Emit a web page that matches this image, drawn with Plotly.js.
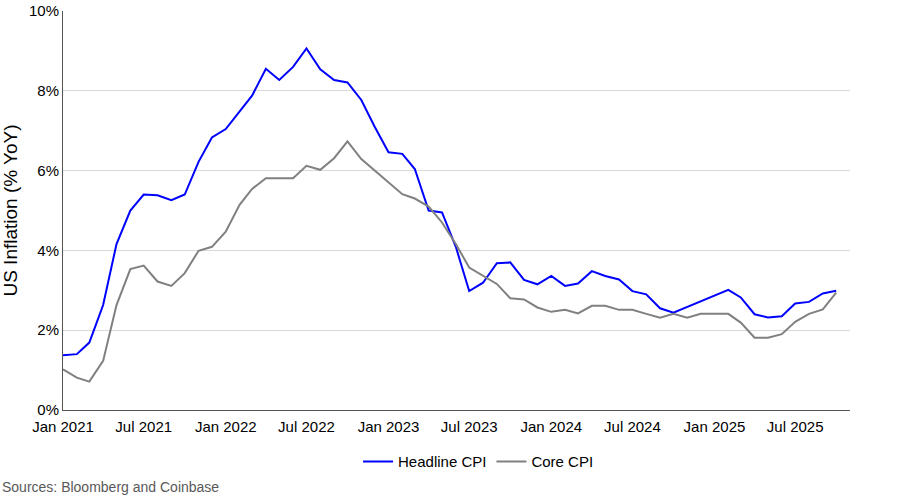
<!DOCTYPE html>
<html>
<head>
<meta charset="utf-8">
<script src="https://cdn.plot.ly/plotly-3.0.1.min.js"></script>
<style>html,body{margin:0;padding:0;background:#fff;}#chart{width:900px;height:500px;}</style>
</head>
<body>
<div id="chart"></div>
<script>
// Monthly dates Jan 2021 .. Oct 2025
const months = [];
for (let y = 2021; y <= 2025; y++) {
  for (let m = 1; m <= 12; m++) {
    if (y === 2025 && m > 10) break;
    months.push(y + '-' + String(m).padStart(2, '0') + '-01');
  }
}

const headlineCPI = [
  1.37, 1.40, 1.69, 2.63, 4.16, 5.00, 5.40, 5.38, 5.26, 5.40, 6.22, 6.83,
  7.04, 7.47, 7.88, 8.55, 8.27, 8.60, 9.06, 8.54, 8.27, 8.21, 7.77, 7.10,
  6.46, 6.42, 6.04, 5.00, 4.95, 4.09, 2.98, 3.19, 3.68, 3.70, 3.26, 3.15,
  3.36, 3.11, 3.17, 3.48, 3.36, 3.27, 2.98, 2.90, 2.55, 2.44, 2.58, 2.72,
  2.86, 3.01, 2.82, 2.40, 2.32, 2.35, 2.67, 2.71, 2.92, 2.99
];

const coreCPI = [
  1.02, 0.81, 0.71, 1.23, 2.63, 3.53, 3.62, 3.22, 3.11, 3.43, 3.99, 4.09,
  4.47, 5.14, 5.54, 5.81, 5.81, 5.81, 6.12, 6.02, 6.31, 6.73, 6.29, 6.00,
  5.70, 5.41, 5.30, 5.10, 4.70, 4.16, 3.57, 3.36, 3.16, 2.80, 2.77, 2.57,
  2.46, 2.51, 2.42, 2.61, 2.61, 2.51, 2.51, 2.41, 2.31, 2.41, 2.31, 2.41,
  2.41, 2.41, 2.19, 1.81, 1.81, 1.90, 2.21, 2.41, 2.52, 2.94
];

const seriesNames = ['Headline CPI', 'Core CPI'];
const yTickVals = [0, 2, 4, 6, 8, 10];
const yTickText = ['0%', '2%', '4%', '6%', '8%', '10%'];
const sourceText = 'Sources: Bloomberg and Coinbase';
const yTitle = 'US Inflation (% YoY)';

const FONT = '"Liberation Sans Narrow", "Arial Narrow", "Liberation Sans", Arial, sans-serif';

const traces = [
  {x: months, y: headlineCPI, name: seriesNames[0], type: 'scatter', mode: 'lines',
   line: {color: '#0000ff', width: 2}},
  {x: months, y: coreCPI, name: seriesNames[1], type: 'scatter', mode: 'lines',
   line: {color: '#808080', width: 2}}
];

const layout = {
  width: 900, height: 500,
  margin: {l: 63, r: 50, t: 11, b: 90},
  paper_bgcolor: '#ffffff', plot_bgcolor: '#ffffff',
  font: {family: FONT, size: 15, color: '#000000'},
  showlegend: true,
  legend: {orientation: 'h', x: 0.528, xanchor: 'center', y: -0.13, yanchor: 'middle',
           font: {family: FONT, size: 15, color: '#000'}, itemwidth: 30},
  xaxis: {
    type: 'date',
    range: ['2021-01-01', '2025-11-01'],
    tickformat: '%b %Y', dtick: 'M6', tick0: '2021-01-01',
    showgrid: false, showline: true, linecolor: '#555555', linewidth: 1,
    ticks: 'outside', ticklen: 3, tickcolor: 'rgba(0,0,0,0)', zeroline: false,
    tickfont: {family: FONT, size: 15, color: '#000'}
  },
  yaxis: {
    range: [0, 10], tickvals: yTickVals, ticktext: yTickText,
    showgrid: true, gridcolor: '#d9d9d9', gridwidth: 1,
    showline: true, linecolor: '#555555', linewidth: 1,
    zeroline: false, ticks: '',
    tickfont: {family: FONT, size: 15, color: '#000'},
    title: {text: yTitle, font: {family: FONT, size: 19, color: '#000'}, standoff: 8}
  },
  annotations: [{
    text: sourceText, xref: 'paper', yref: 'paper',
    x: -0.08, y: -0.193, xanchor: 'left', yanchor: 'middle', showarrow: false,
    font: {family: FONT, size: 14, color: '#595959'}
  }]
};

Plotly.newPlot('chart', traces, layout, {displayModeBar: false, staticPlot: true});
</script>
</body>
</html>
